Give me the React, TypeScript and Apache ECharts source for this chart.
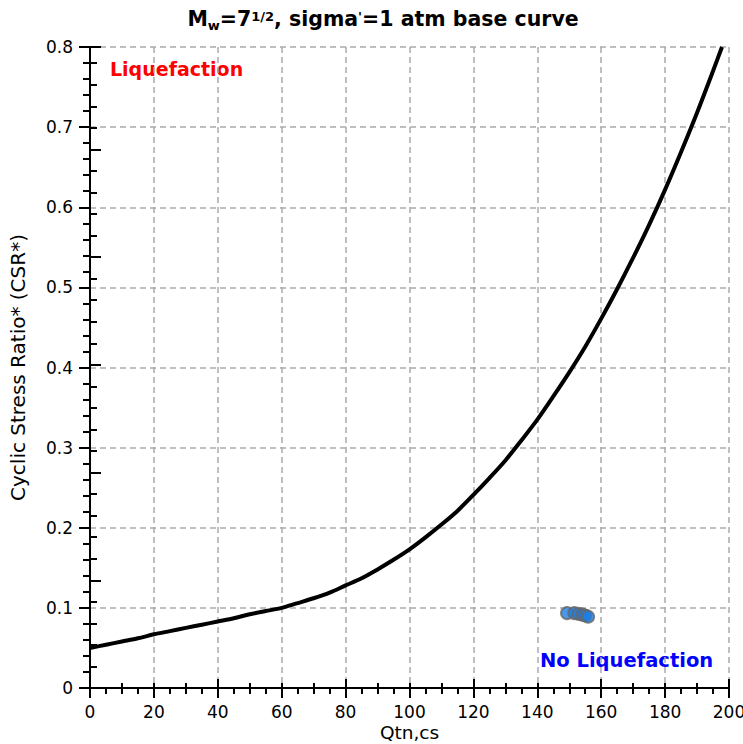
import React, { useEffect, useRef } from "react";
import * as echarts from "echarts";

// Base curve (Qtn,cs vs CSR*)
const curveQ = [0, 5, 10, 15, 20, 25, 30, 35, 40, 45, 50, 55, 60, 65, 70, 75, 80, 85, 90, 95, 100, 105, 110, 115, 120, 125, 130, 135, 140, 145, 150, 155, 160, 165, 170, 175, 180, 185, 190, 195, 197.8];
const curveCSR = [0.05, 0.054, 0.058, 0.062, 0.067, 0.071, 0.075, 0.079, 0.083, 0.087, 0.092, 0.096, 0.1, 0.106, 0.112, 0.119, 0.128, 0.137, 0.148, 0.16, 0.173, 0.188, 0.204, 0.221, 0.241, 0.262, 0.284, 0.309, 0.335, 0.364, 0.394, 0.426, 0.461, 0.498, 0.537, 0.578, 0.622, 0.669, 0.718, 0.77, 0.8];

// Measured points
const pointQ = [149.3, 151.6, 153.0, 154.1, 155.0, 155.9];
const pointCSR = [0.0935, 0.0935, 0.0925, 0.0915, 0.0905, 0.089];

const xTicks = { min: 0, max: 200, interval: 20 };
const yTicks = { min: 0, max: 0.8, interval: 0.1 };

const FONT = "DejaVu Sans";

export default function App() {
  const ref = useRef<HTMLDivElement>(null);
  useEffect(() => {
    if (!ref.current) return;
    const chart = echarts.init(ref.current, null, { renderer: "svg" });
    const axisLine = { show: true, lineStyle: { color: "#000", width: 2 } };
    const option = {
      animation: false,
      backgroundColor: "#fff",
      title: {
        text: "{b|M}{sub|w}{b|=7}{sup|1/2}{b|, sigma}{sup|'}{b|=1 atm base curve}",
        left: 378,
        top: 3,
        textAlign: "center",
        textStyle: {
          rich: {
            b: { fontFamily: FONT, fontWeight: "bold", fontSize: 20.5, color: "#000", verticalAlign: "bottom", padding: [0, 0, 3, 0] },
            sub: { fontFamily: FONT, fontWeight: "bold", fontSize: 13, color: "#000", verticalAlign: "bottom" },
            sup: { fontFamily: FONT, fontWeight: "bold", fontSize: 13, color: "#000", verticalAlign: "top", padding: [2, 0, 0, 0] },
          },
        },
      },
      grid: { left: 90, right: 14, top: 47, bottom: 56, containLabel: false, outerBoundsMode: "none" },
      xAxis: [
        {
          type: "value",
          position: "bottom",
          min: xTicks.min,
          max: xTicks.max,
          interval: xTicks.interval,
          name: "Qtn,cs",
          nameLocation: "middle",
          nameGap: 35,
          nameMoveOverlap: false,
          nameTextStyle: { fontFamily: FONT, fontSize: 18.5, color: "#000" },
          axisLine,
          axisTick: { show: true, inside: false, length: 10, lineStyle: { color: "#000", width: 2 } },
          minorTick: { show: true, splitNumber: 4, length: 6, lineStyle: { color: "#000", width: 2 } },
          axisLabel: { fontFamily: FONT, fontSize: 17, color: "#000", margin: 15 },
          splitLine: { show: true, lineStyle: { color: "#aaa", width: 1.5, type: [6, 4] } },
        },
        {
          type: "value",
          position: "top",
          min: 0,
          max: 200,
          interval: 40,
          axisLine,
          axisTick: { show: true, inside: false, length: 9, lineStyle: { color: "#000", width: 2 } },
          minorTick: { show: true, splitNumber: 4, length: 5, lineStyle: { color: "#000", width: 2 } },
          axisLabel: { show: false },
          splitLine: { show: false },
        },
      ],
      yAxis: [
        {
          type: "value",
          position: "left",
          min: yTicks.min,
          max: yTicks.max,
          interval: yTicks.interval,
          name: "Cyclic Stress Ratio* (CSR*)",
          nameLocation: "middle",
          nameGap: 62,
          nameMoveOverlap: false,
          nameTextStyle: { fontFamily: FONT, fontSize: 20, color: "#000" },
          axisLine,
          axisTick: { show: true, inside: false, length: 11, lineStyle: { color: "#000", width: 2 } },
          minorTick: { show: true, splitNumber: 5, length: 7, lineStyle: { color: "#000", width: 2 } },
          axisLabel: { fontFamily: FONT, fontSize: 17, color: "#000", margin: 17 },
          splitLine: { show: true, lineStyle: { color: "#aaa", width: 1.5, type: [6, 4] } },
        },
        {
          type: "value",
          position: "right",
          min: 0,
          max: 5.95,
          interval: 1,
          axisLine,
          axisTick: { show: true, inside: false, length: 11, lineStyle: { color: "#000", width: 2 } },
          minorTick: { show: true, splitNumber: 5, length: 7, lineStyle: { color: "#000", width: 2 } },
          axisLabel: { show: false },
          splitLine: { show: false },
        },
      ],
      series: [
        {
          type: "line",
          xAxisIndex: 0,
          yAxisIndex: 0,
          data: curveQ.map((q, i) => [q, curveCSR[i]]),
          showSymbol: false,
          symbol: "none",
          smooth: 0.3,
          lineStyle: { color: "#000", width: 4 },
          z: 3,
        },
        {
          type: "scatter",
          xAxisIndex: 0,
          yAxisIndex: 0,
          data: pointQ.map((q, i) => [q, pointCSR[i]]),
          symbol: "circle",
          symbolSize: 12,
          itemStyle: { color: "#1a7ee6", borderColor: "#666", borderWidth: 2 },
          z: 4,
        },
      ],
      graphic: [
        {
          type: "text",
          left: 110,
          top: 59,
          style: { text: "Liquefaction", fontFamily: FONT, fontWeight: "bold", fontSize: 19, fill: "#ff0000" },
        },
        {
          type: "text",
          left: 540,
          top: 650,
          style: { text: "No Liquefaction", fontFamily: FONT, fontWeight: "bold", fontSize: 19.5, fill: "#0000ff" },
        },
      ],
    };
    chart.setOption(option as any);
    return () => chart.dispose();
  }, []);
  return <div ref={ref} style={{ width: 743, height: 744, position: "absolute", left: 0, top: 0 }} />;
}
